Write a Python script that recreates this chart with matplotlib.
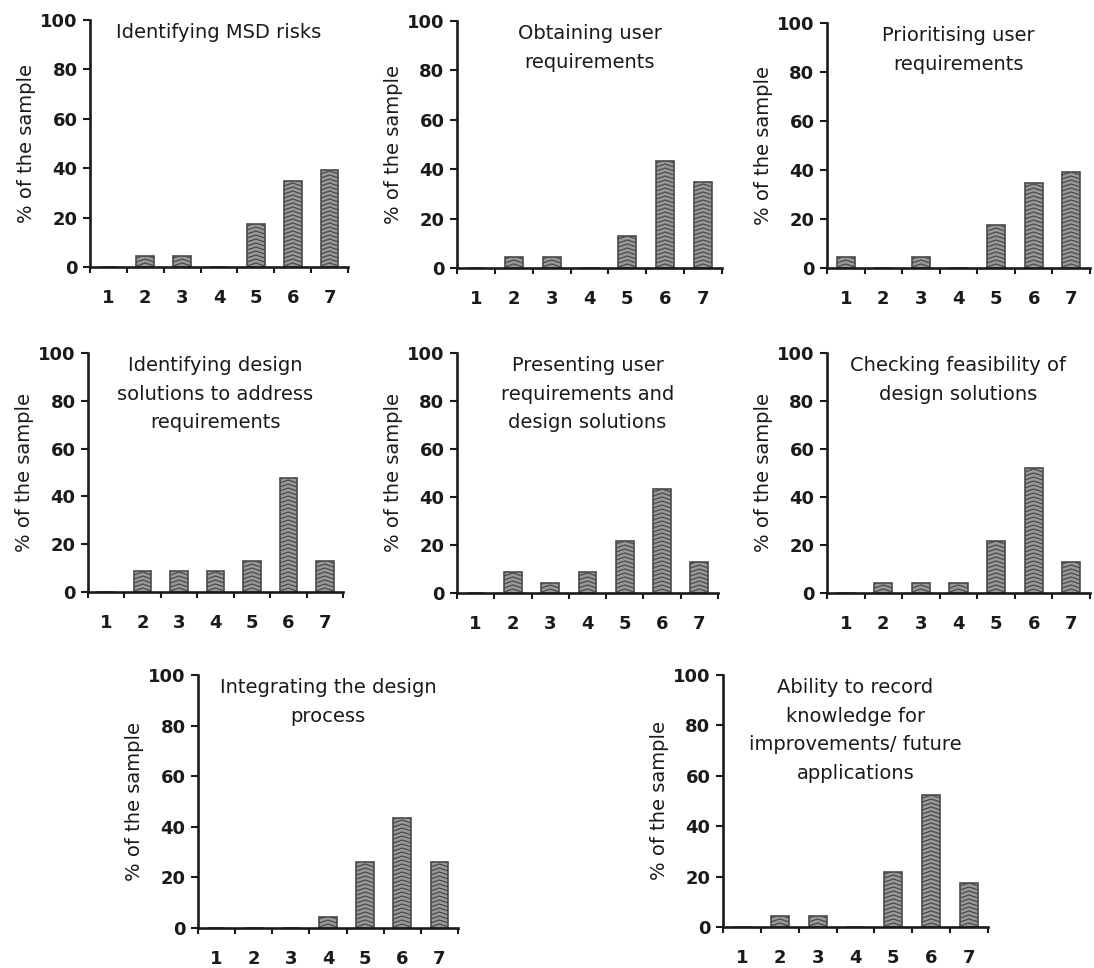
import numpy as np
import matplotlib.pyplot as plt

# figure size in pixels (saved at dpi=100)
W, H = 1094, 968

categories = [1, 2, 3, 4, 5, 6, 7]

titles = [
    "Identifying MSD risks",
    "Obtaining user\nrequirements",
    "Prioritising user\nrequirements",
    "Identifying design\nsolutions to address\nrequirements",
    "Presenting user\nrequirements and\ndesign solutions",
    "Checking feasibility of\ndesign solutions",
    "Integrating the design\nprocess",
    "Ability to record\nknowledge for\nimprovements/ future\napplications",
]

# % of the sample per rating (1..7)
msd_risks = [0, 4.3, 4.3, 0, 17.4, 34.8, 39.1]
obtaining_req = [0, 4.3, 4.3, 0, 13.0, 43.5, 34.8]
prioritising_req = [4.3, 0, 4.3, 0, 17.4, 34.8, 39.1]
design_solutions = [0, 8.7, 8.7, 8.7, 13.0, 47.8, 13.0]
presenting_req = [0, 8.7, 4.3, 8.7, 21.7, 43.5, 13.0]
checking_feasibility = [0, 4.3, 4.3, 4.3, 21.7, 52.2, 13.0]
integrating_process = [0, 0, 0, 4.3, 26.1, 43.5, 26.1]
record_knowledge = [0, 4.3, 4.3, 0, 21.7, 52.2, 17.4]

series = [msd_risks, obtaining_req, prioritising_req, design_solutions,
          presenting_req, checking_feasibility, integrating_process,
          record_knowledge]

y_ticks = [0, 20, 40, 60, 80, 100]

# axes boxes in pixels: left, right, top, bottom
boxes = [
    (90, 348, 20, 267),
    (457, 722, 21, 268),
    (827, 1090, 23, 268),
    (88, 343, 353, 592),
    (457, 718, 353, 593),
    (827, 1090, 353, 593),
    (198, 458, 675, 928),
    (723, 988, 675, 927),
]

INK = "#1a1a1a"
BAR_FILL = "#999999"
BAR_LINE = "#4a4a4a"


def add_zigzag(ax, bars, h_px, step_px=4.0, amp_px=3.0):
    """Fake the chevron fill pattern with clipped zigzag lines."""
    ypp = 100.0 / h_px
    step, amp = step_px * ypp, amp_px * ypp
    for rect in bars:
        h = rect.get_height()
        if h <= 0:
            continue
        x0, w = rect.get_x(), rect.get_width()
        ys = np.arange(-amp, h + step, step)
        xs = np.tile([x0, x0 + w / 2, x0 + w, np.nan], len(ys))
        yv = np.column_stack([ys, ys + amp, ys, np.full_like(ys, np.nan)]).ravel()
        line, = ax.plot(xs, yv, color=BAR_LINE, lw=0.9, zorder=3)
        line.set_clip_path(rect)


fig = plt.figure(figsize=(W / 100, H / 100), dpi=100)
fig.patch.set_facecolor("white")

for vals, title, (l, r, t, b) in zip(series, titles, boxes):
    w_px, h_px = r - l, b - t
    ax = fig.add_axes([l / W, (H - b) / H, w_px / W, h_px / H])

    bars = ax.bar(categories, vals, width=0.48, color=BAR_FILL,
                  edgecolor=BAR_LINE, linewidth=1.2, zorder=2)
    add_zigzag(ax, bars, h_px)

    ax.set_xlim(0.5, 7.5)
    ax.set_ylim(0, 100)
    for side in ("top", "right"):
        ax.spines[side].set_visible(False)
    for side in ("left", "bottom"):
        ax.spines[side].set_linewidth(1.9)
        ax.spines[side].set_color(INK)
        ax.spines[side].set_zorder(4)

    # ticks at category boundaries, labels at centres
    ax.set_xticks(np.arange(0.5, 8.0, 1.0))
    ax.set_xticklabels([])
    ax.set_xticks(categories, minor=True)
    ax.set_xticklabels([str(c) for c in categories], minor=True,
                       fontsize=13, fontweight="bold", color=INK)
    ax.tick_params(axis="x", which="major", direction="out", length=4,
                   width=1.5, color=INK)
    ax.tick_params(axis="x", which="minor", length=0, pad=16)

    ax.set_yticks(y_ticks)
    ax.set_yticklabels([str(v) for v in y_ticks], fontsize=13,
                       fontweight="bold", color=INK)
    ax.tick_params(axis="y", direction="out", length=5, width=1.5,
                   color=INK, pad=4)

    ax.set_ylabel("% of the sample", fontsize=14, color=INK)
    ax.yaxis.set_label_coords(-54 / w_px, 0.5)

    ax.text(0.5, 1 - 3 / h_px, title, transform=ax.transAxes,
            ha="center", va="top", fontsize=14, color=INK,
            linespacing=1.65, multialignment="center")

fig.savefig("out.png", dpi=100, facecolor="white")
